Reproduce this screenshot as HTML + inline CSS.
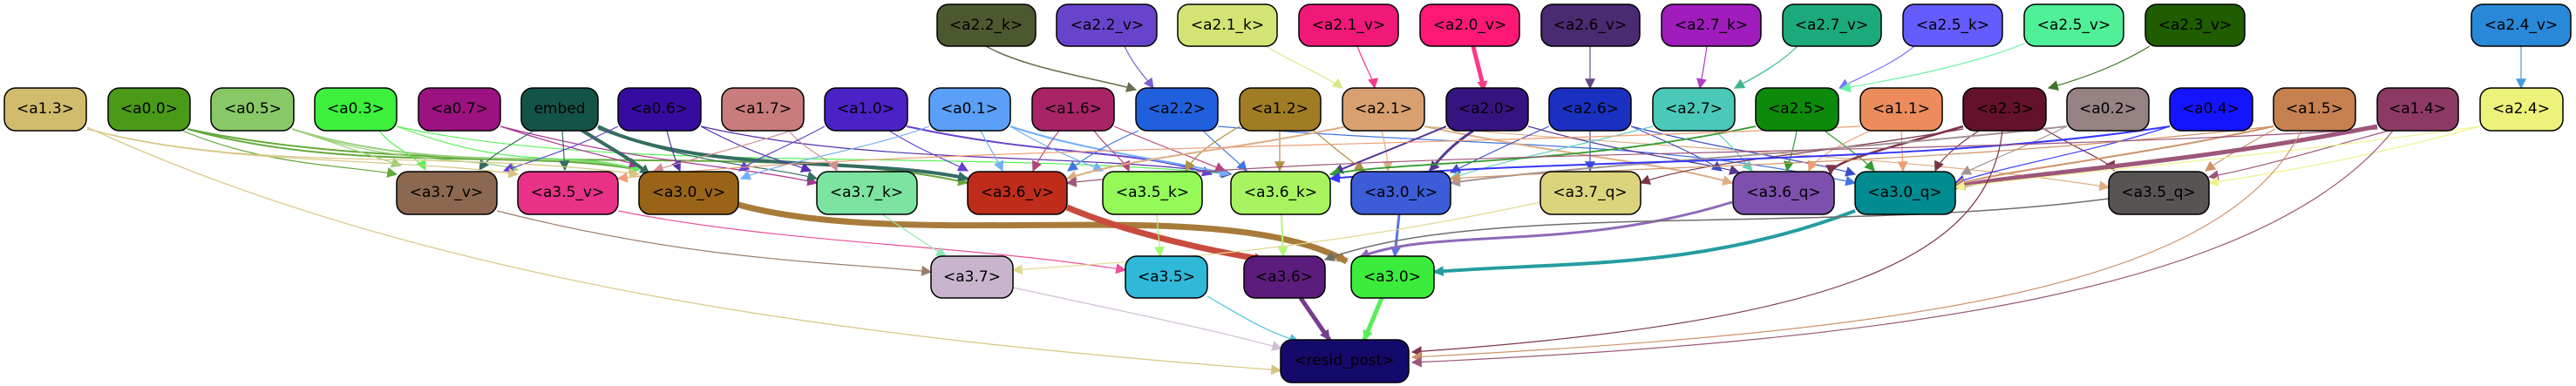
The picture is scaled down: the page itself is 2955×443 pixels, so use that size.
<!DOCTYPE html>
<html><head><meta charset="utf-8"><style>
html,body{margin:0;padding:0;background:#fff;width:2955px;height:443px;overflow:hidden}
svg{display:block}
text{font-family:"DejaVu Sans","Liberation Sans",sans-serif;font-size:17px;text-anchor:middle;dominant-baseline:central}
</style></head><body>
<svg width="2955" height="443" viewBox="0 0 2955 443">
<defs>
<marker id="m" viewBox="0 0 10 10" refX="9" refY="5" markerWidth="5" markerHeight="5" orient="auto-start-reverse" markerUnits="strokeWidth"><path d="M0,0 L10,5 L0,10z" fill="context-stroke"/></marker>
<marker id="t" viewBox="0 0 10 10" refX="9" refY="5" markerWidth="12" markerHeight="12" orient="auto" markerUnits="userSpaceOnUse"><path d="M0,0 L10,5 L0,10z" fill="context-stroke"/></marker>
</defs>
<g fill="none" marker-end="url(#t)" stroke-width="1.2" opacity="0.85">
<!-- row1 -> row2 -->
<path d="M1131,53 C1180,80 1260,90 1303,103" stroke="#4c5830" stroke-width="1.5"/>
<path d="M1290,53 C1300,75 1315,90 1323,101" stroke="#6844cc"/>
<path d="M1452,53 C1490,75 1525,90 1540,101" stroke="#d4e474"/>
<path d="M1557,53 C1565,75 1575,90 1577,101" stroke="#f01878"/>
<path d="M1690,53 C1695,75 1700,90 1702,104" stroke="#fc1874" stroke-width="5"/>
<path d="M1824,53 L1824,101" stroke="#4a2a70"/>
<path d="M1958,53 C1955,75 1952,90 1950,101" stroke="#a01cbc"/>
<path d="M2062,53 C2040,75 2010,90 1990,101" stroke="#1caa7c"/>
<path d="M2196,53 C2170,75 2130,90 2110,101" stroke="#645cfc"/>
<path d="M2322,50 C2260,75 2180,90 2112,102" stroke="#50f098"/>
<path d="M2466,53 C2430,75 2390,90 2350,101" stroke="#205c00"/>
<path d="M2892,53 L2892,101" stroke="#2a88d8"/>
<!-- row2 -> row3 -->
<path d="M205,148 C300,190 400,190 455,200" stroke="#4a9a18"/>
<path d="M215,148 C400,200 600,170 733,195" stroke="#4a9a18" stroke-width="2"/>
<path d="M215,148 C500,210 900,160 1110,210" stroke="#4a9a18" stroke-width="2"/>
<path d="M335,148 C400,170 430,180 460,190" stroke="#88c866"/>
<path d="M335,148 C500,200 650,170 733,195" stroke="#88c866" stroke-width="2"/>
<path d="M335,148 C450,190 550,180 594,195" stroke="#88c866"/>
<path d="M435,150 C450,170 480,180 488,195" stroke="#3cf03c"/>
<path d="M455,145 C600,200 650,170 733,195" stroke="#3cf03c"/>
<path d="M455,145 C700,200 1100,170 1412,200" stroke="#3cf03c"/>
<path d="M574,145 C650,170 700,180 733,190" stroke="#9c1280"/>
<path d="M574,145 C750,190 850,190 937,210" stroke="#9c1280"/>
<path d="M612,150 C580,170 560,180 550,195" stroke="#145446"/>
<path d="M645,150 L648,195" stroke="#145446"/>
<path d="M665,148 C700,170 720,180 745,200" stroke="#145446" stroke-width="4"/>
<path d="M686,145 C800,200 1000,180 1110,205" stroke="#145446" stroke-width="4"/>
<path d="M686,148 C800,190 880,190 937,205" stroke="#145446"/>
<path d="M709,145 C660,170 610,185 578,196" stroke="#4a22c6"/>
<path d="M765,150 C770,170 775,185 780,196" stroke="#360ca0"/>
<path d="M804,145 C870,180 900,185 930,196" stroke="#360ca0"/>
<path d="M804,145 C1000,190 1250,175 1412,200" stroke="#360ca0"/>
<path d="M905,150 C920,170 955,185 960,196" stroke="#c87c7c"/>
<path d="M922,145 C850,170 800,180 750,196" stroke="#c87c7c"/>
<path d="M946,145 C900,170 870,180 848,196" stroke="#4a22c6"/>
<path d="M1020,150 C1060,175 1090,185 1110,196" stroke="#4a22c6"/>
<path d="M1040,145 C1200,180 1300,170 1390,200" stroke="#4a22c6" stroke-width="2"/>
<path d="M1066,145 C1000,170 900,185 850,205" stroke="#5aa0f8"/>
<path d="M1125,150 C1135,170 1145,185 1150,196" stroke="#5aa0f8"/>
<path d="M1159,145 C1200,170 1240,185 1265,196" stroke="#5aa0f8"/>
<path d="M1159,145 C1250,175 1350,185 1410,200" stroke="#5aa0f8" stroke-width="2"/>
<path d="M1215,150 C1200,170 1190,185 1185,196" stroke="#a82466"/>
<path d="M1255,150 C1270,170 1290,185 1295,196" stroke="#a82466"/>
<path d="M1278,145 C1350,175 1380,185 1405,196" stroke="#a82466"/>
<path d="M1306,150 C1260,170 1240,185 1225,196" stroke="#2060dc"/>
<path d="M1380,150 C1400,170 1420,185 1430,196" stroke="#2060dc"/>
<path d="M1397,145 C1700,170 1900,160 2128,210" stroke="#2060dc"/>
<path d="M1468,150 L1468,196" stroke="#a07c24"/>
<path d="M1505,148 C1530,170 1550,185 1565,196" stroke="#a07c24"/>
<path d="M1422,145 C1380,170 1370,180 1360,196" stroke="#a07c24"/>
<path d="M1545,145 C1400,175 1300,180 1224,205" stroke="#d8a070" stroke-width="2"/>
<path d="M1585,150 C1590,170 1592,185 1592,196" stroke="#d8a070"/>
<path d="M1634,145 C1800,180 1900,185 1987,210" stroke="#d8a070" stroke-width="2"/>
<path d="M1634,145 C1900,170 2200,180 2419,215" stroke="#d8a070"/>
<path d="M1690,150 C1660,170 1650,185 1640,196" stroke="#361480" stroke-width="3"/>
<path d="M1659,145 C1600,170 1560,185 1530,198" stroke="#361480" stroke-width="2"/>
<path d="M1753,145 C1880,180 1950,185 1995,198" stroke="#361480"/>
<path d="M1824,150 L1824,196" stroke="#1a30c0"/>
<path d="M1777,145 C1720,170 1690,185 1664,198" stroke="#1a30c0"/>
<path d="M1871,145 C1930,170 1960,185 1975,196" stroke="#1a30c0"/>
<path d="M1871,145 C1990,175 2080,185 2128,200" stroke="#1a30c0"/>
<path d="M1896,145 C1800,170 1720,185 1664,205" stroke="#4ac8b8"/>
<path d="M1965,148 C1990,170 2000,185 2010,196" stroke="#4ac8b8"/>
<path d="M2061,150 C2058,170 2052,185 2050,196" stroke="#0e8a0a"/>
<path d="M2090,148 C2120,170 2140,185 2150,196" stroke="#0e8a0a"/>
<path d="M2014,145 C1800,190 1600,185 1526,200" stroke="#0e8a0a" stroke-width="1.8"/>
<path d="M2150,148 C2100,170 2080,185 2075,196" stroke="#ec8c5c"/>
<path d="M2181,150 L2183,196" stroke="#ec8c5c"/>
<path d="M2134,145 C1600,170 1000,170 709,205" stroke="#ec8c5c"/>
<path d="M2252,145 C2150,175 2100,185 2100,200" stroke="#64122a" stroke-width="2.5"/>
<path d="M2270,150 C2240,170 2225,185 2220,196" stroke="#64122a"/>
<path d="M2345,148 C2380,170 2420,185 2425,196" stroke="#64122a"/>
<path d="M2252,148 C2100,175 1950,185 1882,210" stroke="#64122a"/>
<path d="M2371,145 C2320,170 2280,185 2250,200" stroke="#968282"/>
<path d="M2371,145 C2100,175 1800,190 1664,210" stroke="#968282" stroke-width="2"/>
<path d="M2489,145 C2400,175 2300,190 2243,210" stroke="#1414ff"/>
<path d="M2489,145 C2200,190 1800,180 1526,205" stroke="#1414ff" stroke-width="2"/>
<path d="M2608,145 C2450,180 2300,195 2243,212" stroke="#c68050" stroke-width="2"/>
<path d="M2610,148 C2570,170 2545,185 2530,196" stroke="#c68050"/>
<path d="M2608,145 C2200,190 1900,190 1664,205" stroke="#c68050"/>
<path d="M2727,145 C2500,190 2300,200 2243,215" stroke="#8c3a64" stroke-width="5"/>
<path d="M2740,150 C2650,175 2580,195 2534,203" stroke="#8c3a64"/>
<path d="M2727,148 C2200,180 1600,170 1224,210" stroke="#8c3a64"/>
<path d="M2845,145 C2600,180 2350,200 2243,215" stroke="#ecf27a"/>
<path d="M2845,145 C2700,185 2600,200 2534,210" stroke="#ecf27a"/>
<path d="M100,148 C300,200 500,170 733,200" stroke="#d0bc6c"/>
<path d="M100,148 C250,190 450,180 594,200" stroke="#d0bc6c"/>
<!-- row3 -> row4 -->
<path d="M570,242 C800,300 950,300 1068,312" stroke="#8c6850"/>
<path d="M709,242 C900,280 1100,280 1291,310" stroke="#e83288"/>
<path d="M847,235 C1050,290 1400,220 1545,300" stroke="#9a6418" stroke-width="7"/>
<path d="M1012,246 C1040,265 1070,285 1085,294" stroke="#7ce4a0"/>
<path d="M1224,238 C1300,270 1400,290 1450,298" stroke="#c02c1c" stroke-width="7"/>
<path d="M1327,246 L1331,294" stroke="#94fa58"/>
<path d="M1470,246 L1472,294" stroke="#a8f460" stroke-width="2"/>
<path d="M1605,246 L1600,294" stroke="#3c5cd8" stroke-width="3"/>
<path d="M1767,232 C1500,290 1300,300 1162,310" stroke="#dcd47c"/>
<path d="M1987,232 C1800,290 1650,260 1560,295" stroke="#7c50ac" stroke-width="3"/>
<path d="M2128,242 C1950,310 1800,300 1645,312" stroke="#008c90" stroke-width="4"/>
<path d="M2419,228 C2100,270 1700,230 1520,298" stroke="#585454" stroke-width="1.5"/>
<!-- to resid -->
<path d="M100,146 C500,330 1000,390 1469,425" stroke="#d0bc6c"/>
<path d="M1162,330 C1300,360 1400,380 1470,400" stroke="#c8b4cc"/>
<path d="M1385,340 C1420,360 1450,380 1490,392" stroke="#30b8d8"/>
<path d="M1492,342 L1525,390" stroke="#5c1c7c" stroke-width="5"/>
<path d="M1585,342 L1565,390" stroke="#3cec3c" stroke-width="5"/>
<path d="M2297,150 C2280,300 2100,370 1620,404" stroke="#64122a"/>
<path d="M2640,150 C2550,330 2200,380 1620,410" stroke="#c68050"/>
<path d="M2745,150 C2600,330 2200,390 1620,416" stroke="#8c3a64"/>
<path d="M2476,246" stroke="none"/>
</g>
<g stroke="#000" stroke-width="1.5">
<!-- row1 -->
<rect x="1075" y="5" width="113" height="48" rx="13" fill="#4c5830"/>
<rect x="1212" y="5" width="115" height="48" rx="13" fill="#6844cc"/>
<rect x="1351" y="5" width="114" height="48" rx="13" fill="#d4e474"/>
<rect x="1490" y="5" width="114" height="48" rx="13" fill="#f01878"/>
<rect x="1629" y="5" width="114" height="48" rx="13" fill="#fc1874"/>
<rect x="1768" y="5" width="113" height="48" rx="13" fill="#4a2a70"/>
<rect x="1906" y="5" width="114" height="48" rx="13" fill="#a01cbc"/>
<rect x="2045" y="5" width="113" height="48" rx="13" fill="#1caa7c"/>
<rect x="2183" y="5" width="114" height="48" rx="13" fill="#645cfc"/>
<rect x="2322" y="5" width="114" height="48" rx="13" fill="#50f098"/>
<rect x="2461" y="5" width="114" height="48" rx="13" fill="#205c00"/>
<rect x="2835" y="5" width="114" height="48" rx="13" fill="#2a88d8"/>
<!-- row2 -->
<rect x="5" y="101" width="94" height="49" rx="13" fill="#d0bc6c"/>
<rect x="124" y="101" width="94" height="49" rx="13" fill="#4a9a18"/>
<rect x="242" y="101" width="95" height="49" rx="13" fill="#88c866"/>
<rect x="361" y="101" width="94" height="49" rx="13" fill="#3cf03c"/>
<rect x="480" y="101" width="94" height="49" rx="13" fill="#9c1280"/>
<rect x="598" y="101" width="88" height="49" rx="13" fill="#145446"/>
<rect x="709" y="101" width="95" height="49" rx="13" fill="#360ca0"/>
<rect x="828" y="101" width="94" height="49" rx="13" fill="#c87c7c"/>
<rect x="946" y="101" width="95" height="49" rx="13" fill="#4a22c6"/>
<rect x="1066" y="101" width="93" height="49" rx="13" fill="#5aa0f8"/>
<rect x="1184" y="101" width="94" height="49" rx="13" fill="#a82466"/>
<rect x="1303" y="101" width="94" height="49" rx="13" fill="#2060dc"/>
<rect x="1422" y="101" width="93" height="49" rx="13" fill="#a07c24"/>
<rect x="1540" y="101" width="94" height="49" rx="13" fill="#d8a070"/>
<rect x="1659" y="101" width="94" height="49" rx="13" fill="#361480"/>
<rect x="1777" y="101" width="94" height="49" rx="13" fill="#1a30c0"/>
<rect x="1896" y="101" width="94" height="49" rx="13" fill="#4ac8b8"/>
<rect x="2014" y="101" width="95" height="49" rx="13" fill="#0e8a0a"/>
<rect x="2134" y="101" width="94" height="49" rx="13" fill="#ec8c5c"/>
<rect x="2252" y="101" width="95" height="49" rx="13" fill="#64122a"/>
<rect x="2371" y="101" width="94" height="49" rx="13" fill="#968282"/>
<rect x="2489" y="101" width="95" height="49" rx="13" fill="#1414ff"/>
<rect x="2608" y="101" width="94" height="49" rx="13" fill="#c68050"/>
<rect x="2727" y="101" width="93" height="49" rx="13" fill="#8c3a64"/>
<rect x="2845" y="101" width="95" height="49" rx="13" fill="#ecf27a"/>
<!-- row3 -->
<rect x="455" y="197" width="115" height="49" rx="13" fill="#8c6850"/>
<rect x="594" y="197" width="115" height="49" rx="13" fill="#e83288"/>
<rect x="733" y="197" width="114" height="49" rx="13" fill="#9a6418"/>
<rect x="937" y="197" width="115" height="49" rx="13" fill="#7ce4a0"/>
<rect x="1110" y="197" width="114" height="49" rx="13" fill="#c02c1c"/>
<rect x="1265" y="197" width="114" height="49" rx="13" fill="#94fa58"/>
<rect x="1412" y="197" width="114" height="49" rx="13" fill="#a8f460"/>
<rect x="1550" y="197" width="114" height="49" rx="13" fill="#3c5cd8"/>
<rect x="1767" y="197" width="115" height="49" rx="13" fill="#dcd47c"/>
<rect x="1988" y="197" width="116" height="49" rx="13" fill="#7c50ac"/>
<rect x="2128" y="197" width="115" height="49" rx="13" fill="#008c90"/>
<rect x="2419" y="197" width="115" height="49" rx="13" fill="#585454"/>
<!-- row4 -->
<rect x="1068" y="294" width="94" height="48" rx="13" fill="#c8b4cc"/>
<rect x="1291" y="294" width="94" height="48" rx="13" fill="#30b8d8"/>
<rect x="1427" y="294" width="93" height="48" rx="13" fill="#5c1c7c"/>
<rect x="1550" y="294" width="95" height="48" rx="13" fill="#3cec3c"/>
<rect x="1469" y="390" width="147" height="49" rx="13" fill="#140a6c"/>
</g>
<g fill="#000">
<text x="1131" y="29">&lt;a2.2_k&gt;</text><text x="1270" y="29">&lt;a2.2_v&gt;</text><text x="1408" y="29">&lt;a2.1_k&gt;</text><text x="1547" y="29">&lt;a2.1_v&gt;</text><text x="1686" y="29">&lt;a2.0_v&gt;</text><text x="1824" y="29">&lt;a2.6_v&gt;</text><text x="1963" y="29">&lt;a2.7_k&gt;</text><text x="2101" y="29">&lt;a2.7_v&gt;</text><text x="2240" y="29">&lt;a2.5_k&gt;</text><text x="2379" y="29">&lt;a2.5_v&gt;</text><text x="2518" y="29">&lt;a2.3_v&gt;</text><text x="2892" y="29">&lt;a2.4_v&gt;</text>
<text x="52" y="125">&lt;a1.3&gt;</text><text x="171" y="125">&lt;a0.0&gt;</text><text x="290" y="125">&lt;a0.5&gt;</text><text x="408" y="125">&lt;a0.3&gt;</text><text x="527" y="125">&lt;a0.7&gt;</text><text x="642" y="125">embed</text><text x="756" y="125">&lt;a0.6&gt;</text><text x="875" y="125">&lt;a1.7&gt;</text><text x="993" y="125">&lt;a1.0&gt;</text><text x="1112" y="125">&lt;a0.1&gt;</text><text x="1231" y="125">&lt;a1.6&gt;</text><text x="1350" y="125">&lt;a2.2&gt;</text><text x="1468" y="125">&lt;a1.2&gt;</text><text x="1587" y="125">&lt;a2.1&gt;</text><text x="1706" y="125">&lt;a2.0&gt;</text><text x="1824" y="125">&lt;a2.6&gt;</text><text x="1943" y="125">&lt;a2.7&gt;</text><text x="2061" y="125">&lt;a2.5&gt;</text><text x="2181" y="125">&lt;a1.1&gt;</text><text x="2300" y="125">&lt;a2.3&gt;</text><text x="2418" y="125">&lt;a0.2&gt;</text><text x="2536" y="125">&lt;a0.4&gt;</text><text x="2655" y="125">&lt;a1.5&gt;</text><text x="2773" y="125">&lt;a1.4&gt;</text><text x="2892" y="125">&lt;a2.4&gt;</text>
<text x="512" y="221">&lt;a3.7_v&gt;</text><text x="651" y="221">&lt;a3.5_v&gt;</text><text x="790" y="221">&lt;a3.0_v&gt;</text><text x="994" y="221">&lt;a3.7_k&gt;</text><text x="1167" y="221">&lt;a3.6_v&gt;</text><text x="1322" y="221">&lt;a3.5_k&gt;</text><text x="1469" y="221">&lt;a3.6_k&gt;</text><text x="1607" y="221">&lt;a3.0_k&gt;</text><text x="1824" y="221">&lt;a3.7_q&gt;</text><text x="2046" y="221">&lt;a3.6_q&gt;</text><text x="2185" y="221">&lt;a3.0_q&gt;</text><text x="2476" y="221">&lt;a3.5_q&gt;</text>
<text x="1115" y="318">&lt;a3.7&gt;</text><text x="1338" y="318">&lt;a3.5&gt;</text><text x="1473" y="318">&lt;a3.6&gt;</text><text x="1597" y="318">&lt;a3.0&gt;</text>
<text x="1542" y="414">&lt;resid_post&gt;</text>
</g>
</svg>
</body></html>
